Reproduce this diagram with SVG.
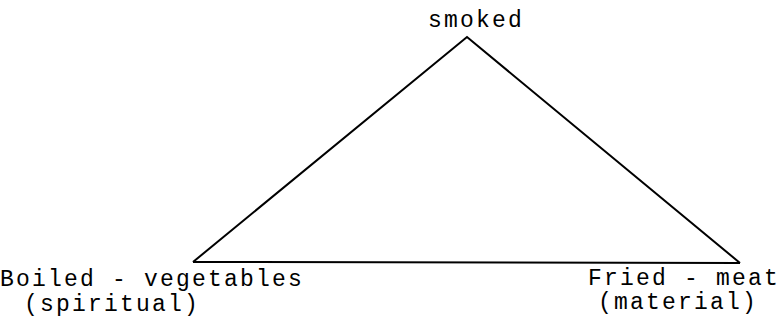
<svg xmlns="http://www.w3.org/2000/svg" width="782" height="320" viewBox="0 0 782 320">
<style>
.t{font-family:"Liberation Mono","Courier New",monospace;font-size:23px;letter-spacing:2.2px;fill:#000}
.e{stroke:#000;stroke-width:2;fill:none;stroke-linejoin:miter}
</style>
<rect width="782" height="320" fill="#fff"/>
<g id="connectors">
<polyline class="e" points="193,262 467,37 740,263"/>
<line class="e" x1="193" y1="262" x2="740" y2="263"/>
</g>
<g id="smoked"><text class="t" x="428" y="27">smoked</text></g>
<g id="boiled"><text class="t" x="0" y="286">Boiled - vegetables</text><text class="t" x="24" y="311">(spiritual)</text></g>
<g id="fried"><text class="t" x="588" y="285">Fried - meat</text><text class="t" x="598" y="309">(material)</text></g>
</svg>
